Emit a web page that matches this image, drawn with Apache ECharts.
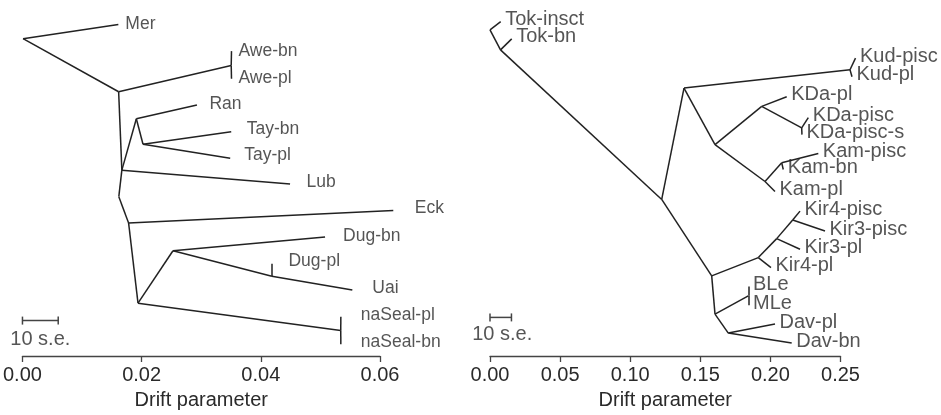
<!DOCTYPE html>
<html><head><meta charset="utf-8">
<script src="https://cdn.jsdelivr.net/npm/echarts@6/dist/echarts.min.js"></script>
<style>html,body{margin:0;padding:0;background:#fff}#c{width:941px;height:415px}</style>
</head><body><div id="c"></div>
<script>
// ---------- Left tree (drift parameter, row position) ----------
const leftNames  = ['', 'Mer', '', '', 'Awe-bn', 'Awe-pl', '', '', 'Ran', '', 'Tay-bn', 'Tay-pl', 'Lub', '', '', 'Eck', '', '', 'Dug-bn', '', 'Dug-pl', 'Uai', '', 'naSeal-pl', 'naSeal-bn'];
const leftDrift  = [0.0001, 0.01609, 0.01614, 0.03503, 0.03508, 0.03508, 0.01668, 0.01911, 0.02928, 0.02023, 0.03503, 0.03486, 0.04491, 0.01617, 0.01781, 0.06223, 0.01939, 0.02526, 0.05078, 0.04185, 0.04187, 0.05536, 0.05341, 0.05343, 0.05343];
const leftRow    = [39.3, 25, 93.3, 66.7, 52, 80, 173, 120.7, 106.7, 146.7, 134, 161, 187, 200, 226.7, 214, 308.3, 255, 241, 281, 268.3, 295, 336, 322, 350];
const leftParent = [-1, 0, 0, 2, 3, 3, 2, 6, 7, 7, 9, 9, 6, 6, 13, 14, 14, 16, 17, 17, 19, 19, 16, 22, 22];
const leftTicks  = [0, 0.02, 0.04, 0.06];
const leftScale  = [0, 0.006];   // 10 s.e.

// ---------- Right tree ----------
const rightNames  = ['', 'Tok-insct', '', 'Tok-bn', '', '', '', 'Kud-pisc', 'Kud-pl', '', '', 'KDa-pl', '', 'KDa-pisc', 'KDa-pisc-s', '', 'Kam-pl', '', 'Kam-pisc', 'Kam-bn', '', '', 'Kir4-pl', '', 'Kir3-pl', '', 'Kir3-pisc', 'Kir4-pisc', '', '', 'BLe', 'MLe', '', 'Dav-pl', 'Dav-bn'];
const rightDrift  = [0, 0.00763, 0.00749, 0.01548, 0.12247, 0.13837, 0.25678, 0.2607, 0.2582, 0.16049, 0.1938, 0.21163, 0.22233, 0.22703, 0.2225, 0.19615, 0.20328, 0.20806, 0.23417, 0.2092, 0.15813, 0.19137, 0.20043, 0.20449, 0.22111, 0.2159, 0.23894, 0.22111, 0.16049, 0.18424, 0.18438, 0.18438, 0.16997, 0.20328, 0.21519];
const rightRow    = [30, 21.7, 50, 39, 200, 88.3, 70, 58.3, 77, 145, 106.7, 97, 128.3, 118, 135, 182, 192, 163.3, 154, 170, 276.7, 258.3, 268.3, 239.3, 250, 220.7, 231.7, 211.7, 315, 296.7, 287.3, 306, 334, 325, 344];
const rightParent = [-1, 0, 0, 2, 2, 4, 5, 6, 6, 5, 9, 10, 10, 12, 12, 9, 15, 15, 17, 17, 4, 20, 21, 21, 23, 23, 25, 25, 20, 28, 29, 29, 28, 32, 32];
const rightTicks  = [0, 0.05, 0.10, 0.15, 0.20, 0.25];
const rightScale  = [0, 0.0153];

const axisTitle = 'Drift parameter';
const scaleText = '10 s.e.';

// ---------- styles ----------
const FONT = '"Liberation Sans", Arial, Helvetica, sans-serif';
const INK = '#222';
const TEXT = '#2a2a2a';
const leftLabelShift = {
  'Mer':[7,-0.5],'Awe-bn':[7,0],'Awe-pl':[7,-1],'Ran':[12.5,-1],'Tay-bn':[15.5,-2.3],'Tay-pl':[14,-3.3],
  'Lub':[16.5,-1.7],'Eck':[21.5,-2.3],'Dug-bn':[18,-1],'Dug-pl':[16.5,-2.3],'Uai':[20,-1.7],
  'naSeal-pl':[20,-1],'naSeal-bn':[20,-2]
};
const rightLabelShift = [4.5, -2];

function edges(drift, row, parent) {
  const out = [];
  parent.forEach((p, i) => { if (p >= 0) out.push({ coords: [[drift[p], row[p]], [drift[i], row[i]]] }); });
  return out;
}
function tips(names, drift, row, shiftFn) {
  const out = [];
  names.forEach((n, i) => { if (n) out.push({ name: n, value: [drift[i], row[i]], label: { position: shiftFn(n) } }); });
  return out;
}

const chart = echarts.init(document.getElementById('c'), null, { renderer: 'canvas' });

function xAxisCfg(grid, max, interval, labelMargin, gap) {
  return {
    gridIndex: grid, type: 'value', min: 0, max: max, interval: interval,
    axisLine: { show: true, onZero: false, lineStyle: { color: '#444', width: 1.3 } },
    axisTick: { show: true, length: 6, lineStyle: { color: '#444', width: 1.3 } },
    axisLabel: { color: TEXT, fontSize: 20, fontFamily: FONT, margin: labelMargin,
      formatter: v => v.toFixed(2), showMinLabel: true, showMaxLabel: true },
    splitLine: { show: false },
    name: axisTitle, nameLocation: 'middle', nameGap: gap,
    nameTextStyle: { color: TEXT, fontSize: 20, fontFamily: FONT }
  };
}

const option = {
  animation: false,
  backgroundColor: '#fff',
  grid: [
    { left: 22, top: 0, width: 358, height: 362 },
    { left: 490, top: 0, width: 350.5, height: 357 }
  ],
  xAxis: [ xAxisCfg(0, 0.06, 0.02, 9, 34), xAxisCfg(1, 0.25, 0.05, 9, 34) ],
  yAxis: [
    { gridIndex: 0, type: 'value', min: 0, max: 362, inverse: true, show: false },
    { gridIndex: 1, type: 'value', min: 0, max: 357, inverse: true, show: false }
  ],
  series: [
    { type: 'lines', coordinateSystem: 'cartesian2d', xAxisIndex: 0, yAxisIndex: 0, clip: false, silent: true,
      lineStyle: { color: INK, width: 1.5, opacity: 1, curveness: 0 }, data: edges(leftDrift, leftRow, leftParent) },
    { type: 'lines', coordinateSystem: 'cartesian2d', xAxisIndex: 1, yAxisIndex: 1, clip: false, silent: true,
      lineStyle: { color: INK, width: 1.5, opacity: 1, curveness: 0 }, data: edges(rightDrift, rightRow, rightParent) },
    { type: 'scatter', xAxisIndex: 0, yAxisIndex: 0, symbolSize: 0, clip: false, silent: true,
      label: { show: true, formatter: p => p.name, align: 'left', verticalAlign: 'middle', color: TEXT, fontSize: 17.5, fontFamily: FONT },
      data: tips(leftNames, leftDrift, leftRow, n => leftLabelShift[n] || [7, -1]) },
    { type: 'scatter', xAxisIndex: 1, yAxisIndex: 1, symbolSize: 0, clip: false, silent: true,
      label: { show: true, formatter: p => p.name, align: 'left', verticalAlign: 'middle', color: TEXT, fontSize: 20, fontFamily: FONT },
      data: tips(rightNames, rightDrift, rightRow, () => rightLabelShift) },
    // scale bars
    { type: 'line', xAxisIndex: 0, yAxisIndex: 0, silent: true, clip: false, symbol: 'rect', symbolSize: [1.5, 8], showSymbol: true,
      itemStyle: { color: '#444' }, lineStyle: { color: '#444', width: 1.5 },
      data: leftScale.map(v => [v, 326]) },
    { type: 'line', xAxisIndex: 1, yAxisIndex: 1, silent: true, clip: false, symbol: 'rect', symbolSize: [1.5, 8], showSymbol: true,
      itemStyle: { color: '#444' }, lineStyle: { color: '#444', width: 1.5 },
      data: rightScale.map(v => [v, 318.3]) },
    { type: 'scatter', xAxisIndex: 0, yAxisIndex: 0, symbolSize: 0, silent: true, clip: false,
      label: { show: true, formatter: scaleText, position: [0, 19], align: 'center', verticalAlign: 'middle', color: TEXT, fontSize: 20, fontFamily: FONT },
      data: [[(leftScale[0] + leftScale[1]) / 2, 326]] },
    { type: 'scatter', xAxisIndex: 1, yAxisIndex: 1, symbolSize: 0, silent: true, clip: false,
      label: { show: true, formatter: scaleText, position: [1.5, 17], align: 'center', verticalAlign: 'middle', color: TEXT, fontSize: 20, fontFamily: FONT },
      data: [[(rightScale[0] + rightScale[1]) / 2, 318.3]] }
  ]
};
chart.setOption(option);
</script>
</body></html>
